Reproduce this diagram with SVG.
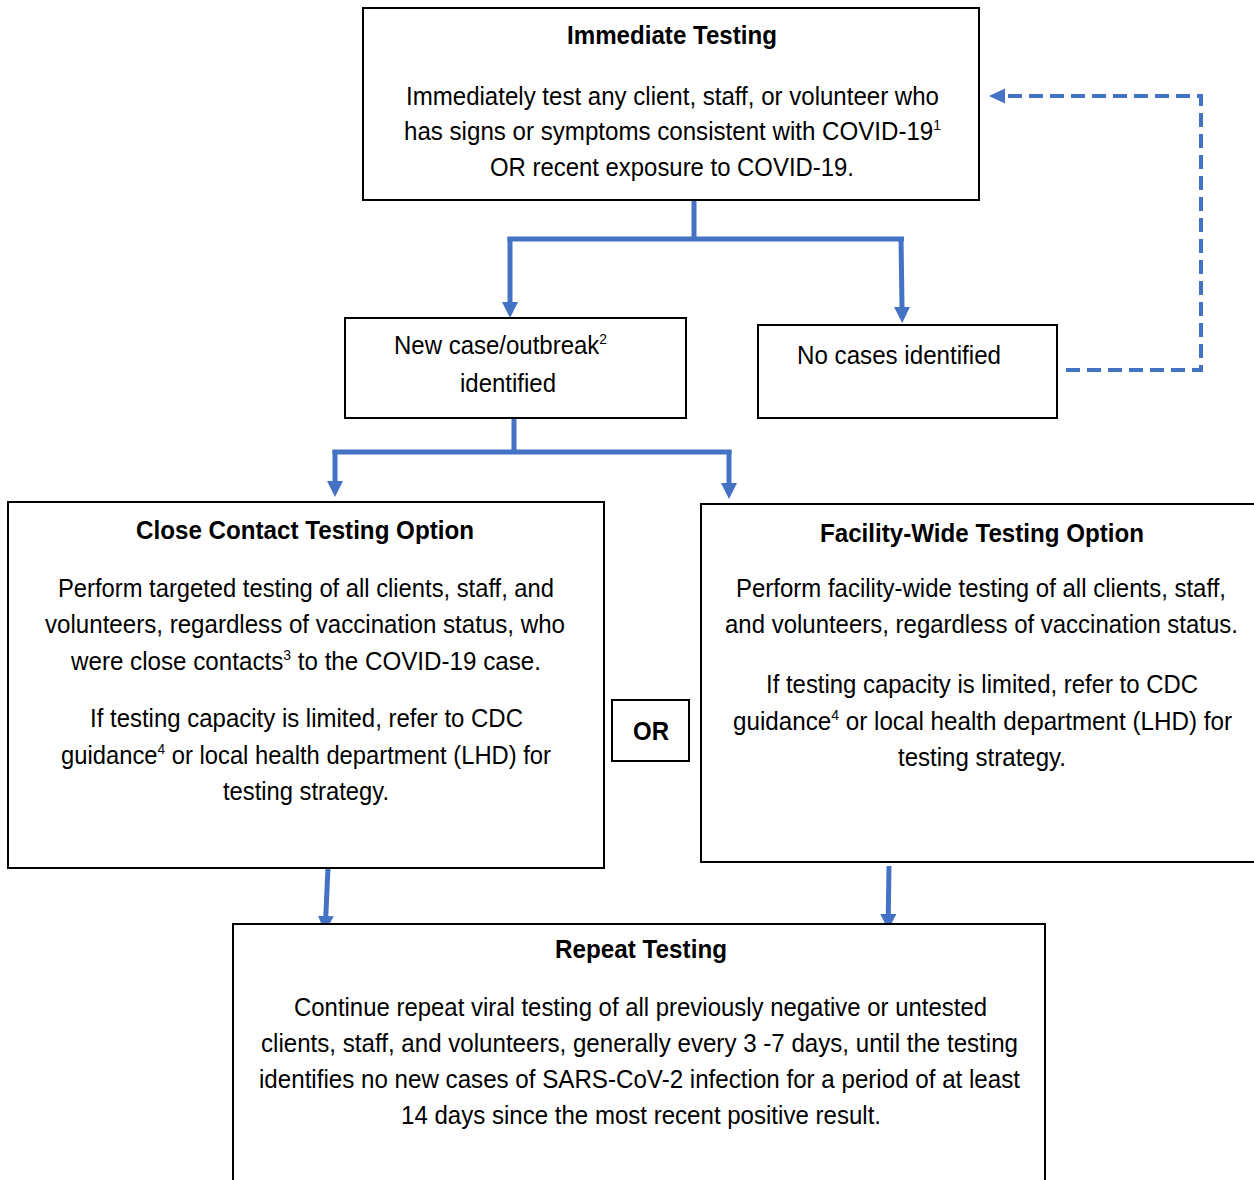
<svg xmlns="http://www.w3.org/2000/svg" width="1254" height="1180" viewBox="0 0 1254 1180">
<defs>
<style>
.box{fill:#fff;stroke:#000;stroke-width:2}
.t{font-family:"Liberation Sans",Arial,sans-serif;font-size:26px;fill:#000;text-anchor:middle}
.b{font-weight:bold}
.sup{font-size:15px}
.c{fill:none;stroke:#4472C4;stroke-width:5}
.d{fill:none;stroke:#4472C4;stroke-width:4;stroke-dasharray:14 7}
</style>
<marker id="ah" viewBox="0 0 10 10" refX="0" refY="5" markerUnits="userSpaceOnUse" markerWidth="16" markerHeight="16" orient="auto"><path d="M0,0 L10,5 L0,10 z" fill="#4472C4"/></marker>
</defs>
<g id="connectors">
<path class="c" d="M694,200 V239 M507.5,239 H904" />
<path class="c" d="M510,237 V302" marker-end="url(#ah)"/>
<path class="c" d="M901,237 L902,307" marker-end="url(#ah)"/>
<path class="c" d="M514,418 V452 M332.5,452 H731.5"/>
<path class="c" d="M335,450 V481" marker-end="url(#ah)"/>
<path class="c" d="M729,450 V483" marker-end="url(#ah)"/>
<path class="c" d="M328,868 L325.8,916" marker-end="url(#ah)"/>
<path class="c" d="M889,866 L888.3,914" marker-end="url(#ah)"/>
<path class="d" d="M1066,370 H1201 V96 H1003"/>
<path d="M989,96 L1005,88.5 L1005,103.5 z" fill="#4472C4"/>
</g>
<g id="immediate">
<rect class="box" x="363" y="8" width="616" height="192"/>
<text class="t b" x="672" y="44" textLength="210" lengthAdjust="spacingAndGlyphs">Immediate Testing</text>
<text class="t" x="672.5" y="105" textLength="533" lengthAdjust="spacingAndGlyphs">Immediately test any client, staff, or volunteer who</text>
<text class="t" x="672.5" y="140" textLength="537" lengthAdjust="spacingAndGlyphs">has signs or symptoms consistent with COVID-19<tspan class="sup" dy="-10">1</tspan></text>
<text class="t" x="672" y="176" textLength="364" lengthAdjust="spacingAndGlyphs">OR recent exposure to COVID-19.</text>
</g>
<g id="newcase">
<rect class="box" x="345" y="318" width="341" height="100"/>
<text class="t" x="500.5" y="354" textLength="213" lengthAdjust="spacingAndGlyphs">New case/outbreak<tspan class="sup" dy="-10">2</tspan></text>
<text class="t" x="508" y="392" textLength="96" lengthAdjust="spacingAndGlyphs">identified</text>
</g>
<g id="nocases">
<rect class="box" x="758" y="325" width="299" height="93"/>
<text class="t" x="899" y="364" textLength="204" lengthAdjust="spacingAndGlyphs">No cases identified</text>
</g>
<g id="closecontact">
<rect class="box" x="8" y="502" width="596" height="366"/>
<text class="t b" x="305" y="539" textLength="338" lengthAdjust="spacingAndGlyphs">Close Contact Testing Option</text>
<text class="t" x="306" y="597" textLength="496" lengthAdjust="spacingAndGlyphs">Perform targeted  testing of all clients, staff, and</text>
<text class="t" x="305" y="633" textLength="520" lengthAdjust="spacingAndGlyphs">volunteers, regardless of vaccination status, who</text>
<text class="t" x="306" y="670" textLength="470" lengthAdjust="spacingAndGlyphs">were close contacts<tspan class="sup" dy="-10">3</tspan><tspan dy="10"> to the COVID-19 case.</tspan></text>
<text class="t" x="306.5" y="727" textLength="433" lengthAdjust="spacingAndGlyphs">If testing capacity is limited, refer to CDC</text>
<text class="t" x="306" y="764" textLength="490" lengthAdjust="spacingAndGlyphs">guidance<tspan class="sup" dy="-10">4</tspan><tspan dy="10"> or local health department (LHD) for</tspan></text>
<text class="t" x="306" y="800" textLength="166" lengthAdjust="spacingAndGlyphs">testing strategy.</text>
</g>
<g id="or">
<rect class="box" x="612" y="700" width="77" height="61"/>
<text class="t b" x="651" y="740" textLength="36" lengthAdjust="spacingAndGlyphs">OR</text>
</g>
<g id="facility">
<rect class="box" x="701" y="504" width="560" height="358"/>
<text class="t b" x="982" y="542" textLength="324" lengthAdjust="spacingAndGlyphs">Facility-Wide Testing Option</text>
<text class="t" x="981" y="597" textLength="490" lengthAdjust="spacingAndGlyphs">Perform facility-wide testing of all clients, staff,</text>
<text class="t" x="981.5" y="633" textLength="513" lengthAdjust="spacingAndGlyphs">and volunteers, regardless of vaccination status.</text>
<text class="t" x="982" y="693" textLength="432" lengthAdjust="spacingAndGlyphs">If testing capacity is limited, refer to CDC</text>
<text class="t" x="982.5" y="730" textLength="499" lengthAdjust="spacingAndGlyphs">guidance<tspan class="sup" dy="-10">4</tspan><tspan dy="10"> or local health department (LHD) for</tspan></text>
<text class="t" x="982" y="766" textLength="168" lengthAdjust="spacingAndGlyphs">testing strategy.</text>
</g>
<g id="repeat">
<rect class="box" x="233" y="924" width="812" height="270"/>
<text class="t b" x="641" y="958" textLength="172" lengthAdjust="spacingAndGlyphs">Repeat Testing</text>
<text class="t" x="640.5" y="1016" textLength="693" lengthAdjust="spacingAndGlyphs">Continue repeat viral testing of all previously negative or untested</text>
<text class="t" x="639.5" y="1052" textLength="757" lengthAdjust="spacingAndGlyphs">clients, staff, and volunteers, generally every 3 -7 days, until the testing</text>
<text class="t" x="639.5" y="1088" textLength="761" lengthAdjust="spacingAndGlyphs">identifies no new cases of SARS-CoV-2 infection for a period of at least</text>
<text class="t" x="641" y="1124" textLength="480" lengthAdjust="spacingAndGlyphs">14 days since the most recent positive result.</text>
</g>
</svg>
